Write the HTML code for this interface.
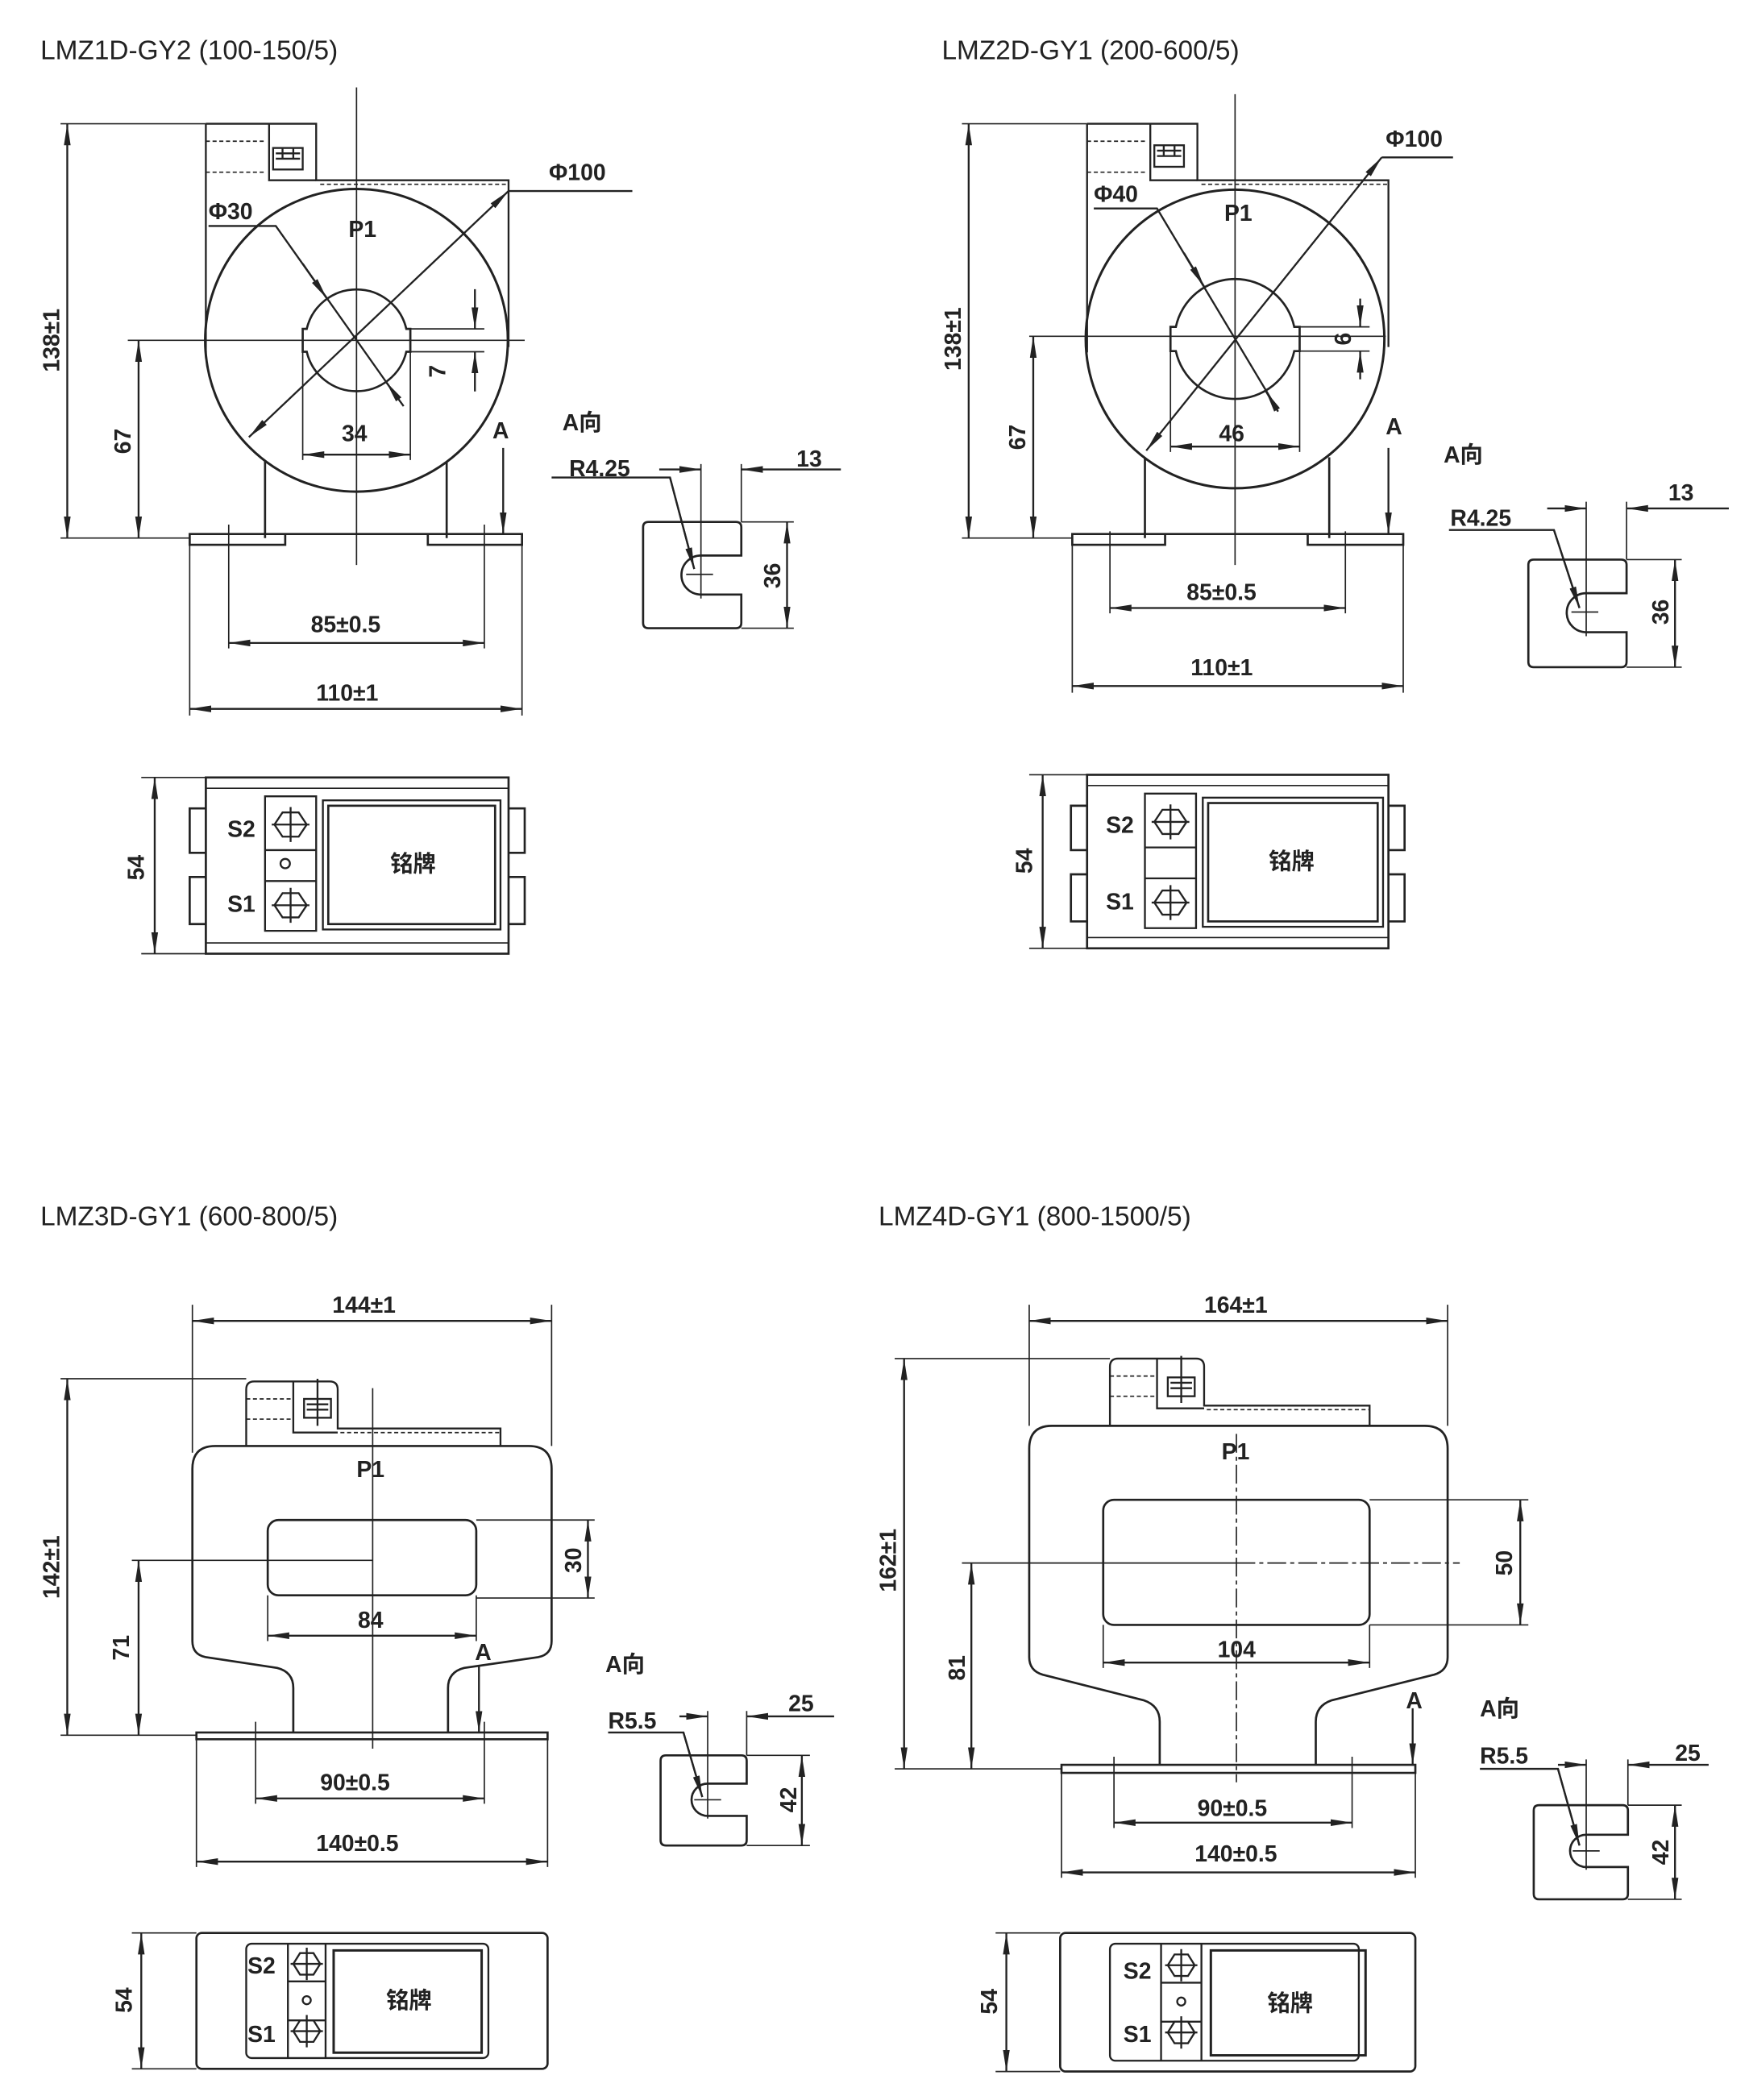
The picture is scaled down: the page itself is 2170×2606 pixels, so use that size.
<!DOCTYPE html>
<html><head><meta charset="utf-8"><style>
html,body{margin:0;padding:0;background:#fff;}
svg{display:block}
text{font-family:"Liberation Sans","Noto Sans CJK SC",sans-serif;fill:#222;}
.t{font-size:20px;}
.d{font-size:17px;font-weight:bold;}
</style></head><body>
<svg width="2170" height="2606" viewBox="0 0 1300 1561.2" xmlns="http://www.w3.org/2000/svg">
<defs>
<marker id="a" viewBox="0 0 16 6" refX="16" refY="3" markerWidth="16" markerHeight="6" markerUnits="userSpaceOnUse" orient="auto-start-reverse"><path d="M0,0.5 L16,3 L0,5.5 Z" fill="#222"/></marker>
</defs>
<g fill="none" stroke="#222" stroke-width="1.4">

<!-- ============ DRAWING 1 ============ -->
<path d="M153,92 H235 V134 H378 V258"/>
<path d="M153,92 V262"/>
<path d="M200,92 V134 H235"/>
<path d="M153,105 H198 M153,128 H198" stroke-dasharray="3,2" stroke-width="1"/>
<path d="M238,137 H378" stroke-dasharray="3,2" stroke-width="1"/>
<rect x="203" y="110" width="22" height="16"/><path d="M205,114 H223 M205,118 H223 M210,110 V118 M218,110 V118"/>
<circle cx="265" cy="253" r="112.5" stroke-width="1.8"/>
<path d="M228,244.5 A38,38 0 0 1 302,244.5 L305,244.5 V261.5 L302,261.5 A38,38 0 0 1 228,261.5 L225,261.5 V244.5 Z" stroke-width="1.6"/>
<path d="M197,343 V400 M332,343 V400" stroke-width="1.6"/>
<path d="M141,397 H212 V405 H141 Z M318,397 H388 V405 H318 Z M212,397 H318" stroke-width="1.6"/>
<path d="M265,65 V420 M95,253 H390" stroke-width="1"/>
<path d="M45,92 H153 M45,400 H141" stroke-width="1"/>
<path d="M50,92 V400" marker-start="url(#a)" marker-end="url(#a)"/>
<path d="M103,253 V400" marker-start="url(#a)" marker-end="url(#a)"/>
<path d="M185,325 L378,142" marker-start="url(#a)" marker-end="url(#a)"/><path d="M378,142 H470"/>
<path d="M155,168 H205 L292,291"/>
<path d="M225,196 L243,222" marker-end="url(#a)"/><path d="M300,302 L287,284" marker-end="url(#a)"/>
<path d="M305,244.5 H360 M305,261.5 H360" stroke-width="1"/>
<path d="M353,215 V244.5" marker-end="url(#a)"/><path d="M353,291 V261.5" marker-end="url(#a)"/>
<path d="M225,253 V342 M305,253 V342" stroke-width="1"/>
<path d="M225,338 H305" marker-start="url(#a)" marker-end="url(#a)"/>
<path d="M374,333 V397" marker-end="url(#a)"/>
<path d="M170,390 V482 M360,390 V482 M141,405 V532 M388,405 V532" stroke-width="1"/>
<path d="M170,478 H360" marker-start="url(#a)" marker-end="url(#a)"/>
<path d="M141,527 H388" marker-start="url(#a)" marker-end="url(#a)"/>
<path d="M482,388 H547 Q551,388 551,392 V413 H521 A14.5,14.5 0 0 0 521,442 H551 V463 Q551,467 547,467 H482 Q478,467 478,463 V392 Q478,388 482,388 Z" stroke-width="1.6"/>
<path d="M521,345 V445 M551,345 V388 M510,427 H530" stroke-width="1"/>
<path d="M410,355 H498 L516,423" /><path d="M498,355 L516,423" marker-end="url(#a)"/>
<path d="M490,349 H521" marker-end="url(#a)"/><path d="M625,349 H551" marker-end="url(#a)"/>
<path d="M551,388 H590 M551,467 H590" stroke-width="1"/>
<path d="M585,388 V467" marker-start="url(#a)" marker-end="url(#a)"/>
<rect x="153" y="578" width="225" height="131" stroke-width="1.6"/>
<path d="M153,586 H378 M153,701 H378" stroke-width="1"/>
<path d="M153,601 H141 V634 H153 M153,652 H141 V687 H153 M378,601 H390 V634 H378 M378,652 H390 V687 H378" stroke-width="1.6"/>
<path d="M197,592 H235 V692 H197 Z M197,632 H235 M197,655 H235" stroke-width="1.4"/>
<rect x="240" y="595" width="132" height="96"/><rect x="244" y="599" width="124" height="88" stroke-width="1.6"/>
<path d="M210,604 L222,604 L228,613 L222,622 L210,622 L204,613 Z M216,600 V626 M202,613 H230"/>
<path d="M210,664 L222,664 L228,673 L222,682 L210,682 L204,673 Z M216,660 V686 M202,673 H230"/>
<circle cx="212" cy="642" r="3.5"/>
<path d="M105,578 H153 M105,709 H153" stroke-width="1"/>
<path d="M115,578 V709" marker-start="url(#a)" marker-end="url(#a)"/>

<!-- ============ DRAWING 2 ============ -->
<path d="M808,92 H890 V134 H1032 V258"/>
<path d="M808,92 V262"/>
<path d="M855,92 V134 H890"/>
<path d="M808,105 H853 M808,128 H853" stroke-dasharray="3,2" stroke-width="1"/>
<path d="M893,137 H1032" stroke-dasharray="3,2" stroke-width="1"/>
<rect x="858" y="108" width="22" height="16"/><path d="M860,112 H878 M860,116 H878 M865,108 V116 M873,108 V116"/>
<circle cx="918" cy="252" r="111" stroke-width="1.8"/>
<path d="M874,243 A45,45 0 0 1 962,243 L966,243 V261 L962,261 A45,45 0 0 1 874,261 L870,261 V243 Z" stroke-width="1.6"/>
<path d="M851,340 V400 M988,340 V400" stroke-width="1.6"/>
<path d="M797,397 H866 V405 H797 Z M972,397 H1043 V405 H972 Z M866,397 H972" stroke-width="1.6"/>
<path d="M918,70 V420 M765,250 H1030" stroke-width="1"/>
<path d="M715,92 H808 M715,400 H797" stroke-width="1"/>
<path d="M720,92 V400" marker-start="url(#a)" marker-end="url(#a)"/>
<path d="M768,250 V400" marker-start="url(#a)" marker-end="url(#a)"/>
<path d="M852,335 L1027,117" marker-start="url(#a)" marker-end="url(#a)"/><path d="M1027,117 H1080"/>
<path d="M813,155 H860 L945,297"/>
<path d="M880,188 L895,213" marker-end="url(#a)"/><path d="M950,306 L941,291" marker-end="url(#a)"/>
<path d="M966,243 H1018 M966,261 H1018" stroke-width="1"/>
<path d="M1011,222 V243" marker-end="url(#a)"/><path d="M1011,282 V261" marker-end="url(#a)"/>
<path d="M870,252 V336 M966,252 V336" stroke-width="1"/>
<path d="M870,332 H966" marker-start="url(#a)" marker-end="url(#a)"/>
<path d="M1032,333 V397" marker-end="url(#a)"/>
<path d="M825,395 V456 M1000,395 V456 M797,405 V515 M1043,405 V515" stroke-width="1"/>
<path d="M825,452 H1000" marker-start="url(#a)" marker-end="url(#a)"/>
<path d="M797,510 H1043" marker-start="url(#a)" marker-end="url(#a)"/>
<path d="M1140,416 H1205 Q1209,416 1209,420 V441 H1179 A14.5,14.5 0 0 0 1179,470 H1209 V492 Q1209,496 1205,496 H1140 Q1136,496 1136,492 V420 Q1136,416 1140,416 Z" stroke-width="1.6"/>
<path d="M1179,373 V473 M1209,373 V416 M1168,455 H1188" stroke-width="1"/>
<path d="M1077,394 H1155 L1174,452"/><path d="M1155,394 L1174,452" marker-end="url(#a)"/>
<path d="M1150,378 H1179" marker-end="url(#a)"/><path d="M1285,378 H1209" marker-end="url(#a)"/>
<path d="M1209,416 H1250 M1209,496 H1250" stroke-width="1"/>
<path d="M1245,416 V496" marker-start="url(#a)" marker-end="url(#a)"/>
<rect x="808" y="576" width="224" height="129" stroke-width="1.6"/>
<path d="M808,584 H1032 M808,697 H1032" stroke-width="1"/>
<path d="M808,599 H796 V632 H808 M808,650 H796 V685 H808 M1032,599 H1044 V632 H1032 M1032,650 H1044 V685 H1032" stroke-width="1.6"/>
<path d="M851,590 H889 V690 H851 Z M851,630 H889 M851,653 H889"/>
<rect x="894" y="593" width="134" height="96"/><rect x="898" y="597" width="126" height="88" stroke-width="1.6"/>
<path d="M864,602 L876,602 L882,611 L876,620 L864,620 L858,611 Z M870,598 V624 M856,611 H884"/>
<path d="M864,662 L876,662 L882,671 L876,680 L864,680 L858,671 Z M870,658 V684 M856,671 H884"/>
<path d="M765,576 H808 M765,705 H808" stroke-width="1"/>
<path d="M775,576 V705" marker-start="url(#a)" marker-end="url(#a)"/>

<!-- ============ DRAWING 3 ============ -->
<path d="M183,1075 V1033 Q183,1027 189,1027 H245 Q251,1027 251,1033 V1062 H372 V1075" />
<path d="M218,1027 V1065 H251"/>
<path d="M183,1040 H216 M183,1055 H216" stroke-dasharray="3,2" stroke-width="1"/>
<path d="M253,1065 H372" stroke-dasharray="3,2" stroke-width="1"/>
<rect x="226" y="1040" width="20" height="14"/><path d="M228,1044 H244 M228,1048 H244 M236,1025 V1060"/>
<path d="M160,1075 H393 Q410,1075 410,1092 V1220 Q410,1230 400,1232 L345,1240 Q333,1243 333,1255 V1288 M218,1288 V1255 Q218,1243 206,1240 L153,1232 Q143,1230 143,1220 V1092 Q143,1075 160,1075" stroke-width="1.6"/>
<rect x="199" y="1130" width="155" height="56" rx="8" stroke-width="1.6"/>
<path d="M146,1288 H407 V1293 H146 Z" stroke-width="1.6"/>
<path d="M277,1032 V1300 M98,1160 H277" stroke-width="1"/>
<path d="M143,970 V1080 M410,970 V1075" stroke-width="1"/>
<path d="M143,982 H410" marker-start="url(#a)" marker-end="url(#a)"/>
<path d="M45,1025 H183 M45,1290 H146" stroke-width="1"/>
<path d="M50,1025 V1290" marker-start="url(#a)" marker-end="url(#a)"/>
<path d="M103,1160 V1290" marker-start="url(#a)" marker-end="url(#a)"/>
<path d="M354,1130 H442 M354,1188 H442" stroke-width="1"/>
<path d="M437,1130 V1188" marker-start="url(#a)" marker-end="url(#a)"/>
<path d="M199,1186 V1220 M354,1186 V1220" stroke-width="1"/>
<path d="M199,1216 H354" marker-start="url(#a)" marker-end="url(#a)"/>
<path d="M356,1238 V1288" marker-end="url(#a)"/>
<path d="M190,1280 V1341 M360,1280 V1341 M146,1293 V1388 M407,1293 V1388" stroke-width="1"/>
<path d="M190,1337 H360" marker-start="url(#a)" marker-end="url(#a)"/>
<path d="M146,1384 H407" marker-start="url(#a)" marker-end="url(#a)"/>
<path d="M495,1305 H551 Q555,1305 555,1309 V1326 H526 A12,12 0 0 0 526,1350 H555 V1368 Q555,1372 551,1372 H495 Q491,1372 491,1368 V1309 Q491,1305 495,1305 Z" stroke-width="1.6"/>
<path d="M526,1272 V1352 M555,1272 V1305 M516,1338 H536" stroke-width="1"/>
<path d="M452,1288 H508 L522,1336"/><path d="M508,1288 L522,1336" marker-end="url(#a)"/>
<path d="M505,1276 H526" marker-end="url(#a)"/><path d="M620,1276 H555" marker-end="url(#a)"/>
<path d="M555,1305 H602 M555,1372 H602" stroke-width="1"/>
<path d="M596,1305 V1372" marker-start="url(#a)" marker-end="url(#a)"/>
<rect x="146" y="1437" width="261" height="101" rx="4" stroke-width="1.6"/>
<rect x="183" y="1445" width="180" height="85" rx="4"/>
<path d="M214,1445 V1530 M242,1445 V1530 M214,1473 H242 M214,1502 H242"/>
<rect x="248" y="1450" width="110" height="76" stroke-width="1.8"/>
<path d="M223,1452 L233,1452 L238,1460 L233,1468 L223,1468 L218,1460 Z M228,1448 V1472 M216,1460 H240"/>
<path d="M223,1502 L233,1502 L238,1510 L233,1518 L223,1518 L218,1510 Z M228,1498 V1522 M216,1510 H240"/>
<circle cx="228" cy="1487" r="3"/>
<path d="M98,1437 H146 M98,1538 H146" stroke-width="1"/>
<path d="M105,1437 V1538" marker-start="url(#a)" marker-end="url(#a)"/>

<!-- ============ DRAWING 4 ============ -->
<path d="M825,1060 V1016 Q825,1010 831,1010 H889 Q895,1010 895,1016 V1045 H1018 V1060"/>
<path d="M860,1010 V1047 H895"/>
<path d="M825,1023 H858 M825,1038 H858" stroke-dasharray="3,2" stroke-width="1"/>
<path d="M897,1048 H1018" stroke-dasharray="3,2" stroke-width="1"/>
<rect x="868" y="1024" width="20" height="14"/><path d="M870,1028 H886 M870,1032 H886 M878,1008 V1043"/>
<path d="M782,1060 H1059 Q1076,1060 1076,1077 V1232 Q1076,1242 1066,1245 L990,1264 Q978,1268 978,1280 V1312 M862,1312 V1280 Q862,1268 850,1264 L775,1245 Q765,1242 765,1232 V1077 Q765,1060 782,1060" stroke-width="1.6"/>
<rect x="820" y="1115" width="198" height="93" rx="8" stroke-width="1.6"/>
<path d="M789,1312 H1052 V1318 H789 Z" stroke-width="1.6"/>
<path d="M919,1066 V1325" stroke-width="1" stroke-dasharray="14,3,3,3"/>
<path d="M715,1162 H919" stroke-width="1"/><path d="M919,1162 H1085" stroke-width="1" stroke-dasharray="14,3,3,3"/>
<path d="M765,970 V1060 M1076,970 V1060" stroke-width="1"/>
<path d="M765,982 H1076" marker-start="url(#a)" marker-end="url(#a)"/>
<path d="M665,1010 H825 M665,1315 H789" stroke-width="1"/>
<path d="M672,1010 V1315" marker-start="url(#a)" marker-end="url(#a)"/>
<path d="M722,1162 V1315" marker-start="url(#a)" marker-end="url(#a)"/>
<path d="M1018,1115 H1136 M1018,1208 H1136" stroke-width="1"/>
<path d="M1130,1115 V1208" marker-start="url(#a)" marker-end="url(#a)"/>
<path d="M820,1208 V1240 M1018,1208 V1240" stroke-width="1"/>
<path d="M820,1236 H1018" marker-start="url(#a)" marker-end="url(#a)"/>
<path d="M1050,1270 V1312" marker-end="url(#a)"/>
<path d="M828,1306 V1359 M1005,1306 V1359 M789,1318 V1396 M1052,1318 V1396" stroke-width="1"/>
<path d="M828,1355 H1005" marker-start="url(#a)" marker-end="url(#a)"/>
<path d="M789,1392 H1052" marker-start="url(#a)" marker-end="url(#a)"/>
<path d="M1144,1342 H1206 Q1210,1342 1210,1346 V1364 H1179 A12,12 0 0 0 1179,1388 H1210 V1408 Q1210,1412 1206,1412 H1144 Q1140,1412 1140,1408 V1346 Q1140,1342 1144,1342 Z" stroke-width="1.6"/>
<path d="M1179,1308 V1390 M1210,1308 V1342 M1169,1376 H1189" stroke-width="1"/>
<path d="M1100,1315 H1158 L1174,1372"/><path d="M1158,1315 L1174,1372" marker-end="url(#a)"/>
<path d="M1158,1312 H1179" marker-end="url(#a)"/><path d="M1270,1312 H1210" marker-end="url(#a)"/>
<path d="M1210,1342 H1250 M1210,1412 H1250" stroke-width="1"/>
<path d="M1245,1342 V1412" marker-start="url(#a)" marker-end="url(#a)"/>
<rect x="788" y="1437" width="264" height="103" rx="4" stroke-width="1.6"/>
<rect x="825" y="1445" width="185" height="87" rx="4"/>
<path d="M863,1445 V1532 M893,1445 V1532 M863,1474 H893 M863,1503 H893"/>
<rect x="900" y="1450" width="115" height="78" stroke-width="1.8"/>
<path d="M873,1453 L883,1453 L888,1461 L883,1469 L873,1469 L868,1461 Z M878,1449 V1473 M866,1461 H890"/>
<path d="M873,1503 L883,1503 L888,1511 L883,1519 L873,1519 L868,1511 Z M878,1499 V1523 M866,1511 H890"/>
<circle cx="878" cy="1488" r="3"/>
<path d="M740,1437 H788 M740,1540 H788" stroke-width="1"/>
<path d="M748,1437 V1540" marker-start="url(#a)" marker-end="url(#a)"/>
</g>

<g>
<text class="t" x="30" y="44">LMZ1D-GY2  (100-150/5)</text>
<text class="t" x="700" y="44">LMZ2D-GY1 (200-600/5)</text>
<text class="t" x="30" y="911">LMZ3D-GY1  (600-800/5)</text>
<text class="t" x="653" y="911">LMZ4D-GY1  (800-1500/5)</text>

<text class="d" x="259" y="176">P1</text>
<text class="d" x="408" y="134">Φ100</text>
<text class="d" x="155" y="163">Φ30</text>
<text class="d" x="254" y="328">34</text>
<text class="d" x="366" y="326">A</text>
<text class="d" x="231" y="470">85±0.5</text>
<text class="d" x="235" y="521">110±1</text>
<text class="d" x="418" y="320">A向</text>
<text class="d" x="423" y="354">R4.25</text>
<text class="d" x="592" y="347">13</text>
<text class="d" transform="translate(44,253) rotate(-90)" text-anchor="middle">138±1</text>
<text class="d" transform="translate(97,328) rotate(-90)" text-anchor="middle">67</text>
<text class="d" transform="translate(331,276) rotate(-90)" text-anchor="middle">7</text>
<text class="d" transform="translate(580,428) rotate(-90)" text-anchor="middle">36</text>
<text class="d" transform="translate(107,645) rotate(-90)" text-anchor="middle">54</text>
<text class="d" x="169" y="622">S2</text>
<text class="d" x="169" y="678">S1</text>
<text class="d" x="290" y="648">铭牌</text>

<text class="d" x="910" y="164">P1</text>
<text class="d" x="1030" y="109">Φ100</text>
<text class="d" x="813" y="150">Φ40</text>
<text class="d" x="906" y="328">46</text>
<text class="d" x="1030" y="323">A</text>
<text class="d" x="882" y="446">85±0.5</text>
<text class="d" x="885" y="502">110±1</text>
<text class="d" x="1073" y="344">A向</text>
<text class="d" x="1078" y="391">R4.25</text>
<text class="d" x="1240" y="372">13</text>
<text class="d" transform="translate(714,252) rotate(-90)" text-anchor="middle">138±1</text>
<text class="d" transform="translate(762,325) rotate(-90)" text-anchor="middle">67</text>
<text class="d" transform="translate(992,252) rotate(90)" text-anchor="middle">9</text>
<text class="d" transform="translate(1240,455) rotate(-90)" text-anchor="middle">36</text>
<text class="d" transform="translate(767,640) rotate(-90)" text-anchor="middle">54</text>
<text class="d" x="822" y="619">S2</text>
<text class="d" x="822" y="676">S1</text>
<text class="d" x="943" y="646">铭牌</text>

<text class="d" x="247" y="976">144±1</text>
<text class="d" x="265" y="1098">P1</text>
<text class="d" x="266" y="1210">84</text>
<text class="d" x="353" y="1234">A</text>
<text class="d" x="238" y="1331">90±0.5</text>
<text class="d" x="235" y="1376">140±0.5</text>
<text class="d" x="450" y="1243">A向</text>
<text class="d" x="452" y="1285">R5.5</text>
<text class="d" x="586" y="1272">25</text>
<text class="d" transform="translate(44,1165) rotate(-90)" text-anchor="middle">142±1</text>
<text class="d" transform="translate(96,1225) rotate(-90)" text-anchor="middle">71</text>
<text class="d" transform="translate(432,1160) rotate(-90)" text-anchor="middle">30</text>
<text class="d" transform="translate(592,1338) rotate(-90)" text-anchor="middle">42</text>
<text class="d" transform="translate(98,1487) rotate(-90)" text-anchor="middle">54</text>
<text class="d" x="184" y="1467">S2</text>
<text class="d" x="184" y="1518">S1</text>
<text class="d" x="287" y="1493">铭牌</text>

<text class="d" x="895" y="976">164±1</text>
<text class="d" x="908" y="1085">P1</text>
<text class="d" x="905" y="1232">104</text>
<text class="d" x="1045" y="1270">A</text>
<text class="d" x="890" y="1350">90±0.5</text>
<text class="d" x="888" y="1384">140±0.5</text>
<text class="d" x="1100" y="1276">A向</text>
<text class="d" x="1100" y="1311">R5.5</text>
<text class="d" x="1245" y="1309">25</text>
<text class="d" transform="translate(666,1160) rotate(-90)" text-anchor="middle">162±1</text>
<text class="d" transform="translate(717,1240) rotate(-90)" text-anchor="middle">81</text>
<text class="d" transform="translate(1124,1162) rotate(-90)" text-anchor="middle">50</text>
<text class="d" transform="translate(1240,1377) rotate(-90)" text-anchor="middle">42</text>
<text class="d" transform="translate(741,1488) rotate(-90)" text-anchor="middle">54</text>
<text class="d" x="835" y="1471">S2</text>
<text class="d" x="835" y="1518">S1</text>
<text class="d" x="942" y="1495">铭牌</text>
</g>
</svg>
</body></html>
